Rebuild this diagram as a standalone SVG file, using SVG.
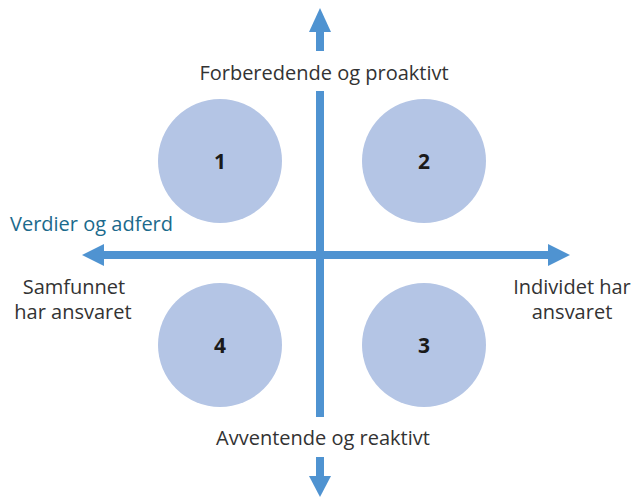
<svg xmlns="http://www.w3.org/2000/svg" width="635" height="497" viewBox="0 0 635 497">
<style>
.c{fill:#b4c5e5}
.ax{fill:#4f93d1}
.t{font-family:"Open Sans","Noto Sans",sans-serif;font-size:20px;fill:#333333}
.n{font-family:"Open Sans","Noto Sans",sans-serif;font-size:21px;font-weight:bold;fill:#1a1a1a;text-anchor:middle}
.v{font-family:"Open Sans","Noto Sans",sans-serif;font-size:20px;fill:#1b6a8c}
</style>
<rect width="635" height="497" fill="#ffffff"/>
<g id="circle1"><circle class="c" cx="220" cy="161" r="62"/><text class="n" x="220" y="169">1</text></g>
<g id="circle2"><circle class="c" cx="424" cy="161" r="62"/><text class="n" x="424" y="169">2</text></g>
<g id="circle3"><circle class="c" cx="424" cy="345" r="62"/><text class="n" x="424" y="353">3</text></g>
<g id="circle4"><circle class="c" cx="220" cy="345" r="62"/><text class="n" x="220" y="353">4</text></g>
<g id="connectors">
<rect class="ax" x="316" y="30" width="8" height="21"/>
<polygon class="ax" points="320,8 309,32 331,32"/>
<rect class="ax" x="316" y="91" width="8" height="326"/>
<rect class="ax" x="316" y="457" width="8" height="22"/>
<polygon class="ax" points="320,497 309,476 331,476"/>
<rect class="ax" x="101" y="251" width="449" height="8"/>
<polygon class="ax" points="82,255 104,244 104,266"/>
<polygon class="ax" points="570,255 548,244 548,266"/>
</g>
<g id="labels">
<text class="t" x="324" y="80" text-anchor="middle">Forberedende og proaktivt</text>
<text class="t" x="323" y="445" text-anchor="middle">Avventende og reaktivt</text>
<text class="v" x="10" y="231">Verdier og adferd</text>
<text class="t" x="74" y="294" text-anchor="middle">Samfunnet</text>
<text class="t" x="73" y="319" text-anchor="middle">har ansvaret</text>
<text class="t" x="572" y="294" text-anchor="middle">Individet har</text>
<text class="t" x="572" y="319" text-anchor="middle">ansvaret</text>
</g>
</svg>
